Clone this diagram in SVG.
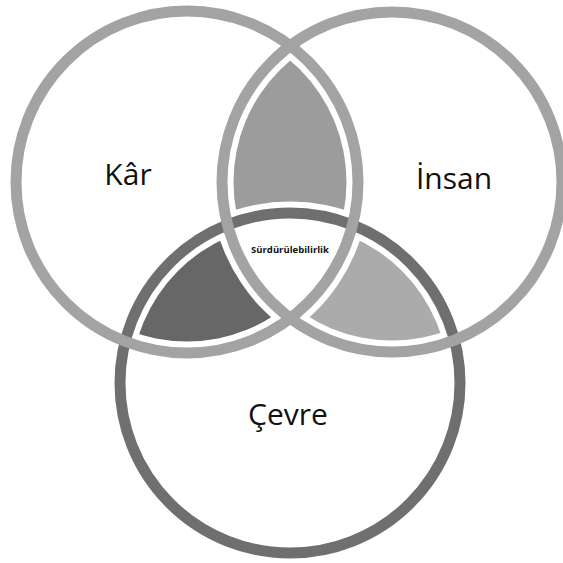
<svg xmlns="http://www.w3.org/2000/svg" width="563" height="563" viewBox="0 0 563 563">
  <style>
    .ring { fill: none; stroke-width: 11; }
    .light { stroke: #a3a3a3; }
    .dark { stroke: #6f6f6f; }
    .label { font-family: "Open Sans", "Noto Sans", sans-serif; font-size: 30px; fill: #111; text-anchor: middle; }
    .center { font-family: "Open Sans", "Noto Sans", sans-serif; font-size: 9.5px; font-weight: bold; fill: #111; text-anchor: middle; }
  </style>
  <defs>
    <clipPath id="inK"><circle cx="187" cy="182" r="159.5"/></clipPath>
    <clipPath id="inI"><circle cx="392" cy="182" r="158.5"/></clipPath>
    <mask id="outC" maskUnits="userSpaceOnUse" x="0" y="0" width="563" height="563">
      <rect x="0" y="0" width="563" height="563" fill="#fff"/>
      <circle cx="290" cy="383" r="181.5" fill="#000"/>
    </mask>
    <mask id="outI" maskUnits="userSpaceOnUse" x="0" y="0" width="563" height="563">
      <rect x="0" y="0" width="563" height="563" fill="#fff"/>
      <circle cx="392" cy="182" r="181.5" fill="#000"/>
    </mask>
    <mask id="outK" maskUnits="userSpaceOnUse" x="0" y="0" width="563" height="563">
      <rect x="0" y="0" width="563" height="563" fill="#fff"/>
      <circle cx="187" cy="182" r="182.5" fill="#000"/>
    </mask>
  </defs>
  <rect x="0" y="0" width="563" height="563" fill="#fff"/>

  <g id="lens-kar-insan" mask="url(#outC)">
    <circle cx="392" cy="182" r="158.5" clip-path="url(#inK)" fill="#9c9c9c"/>
  </g>
  <g id="lens-kar-cevre" mask="url(#outI)">
    <circle cx="290" cy="383" r="158.5" clip-path="url(#inK)" fill="#676767"/>
  </g>
  <g id="lens-insan-cevre" mask="url(#outK)">
    <circle cx="290" cy="383" r="158.5" clip-path="url(#inI)" fill="#ababab"/>
  </g>

  <g id="cevre">
    <circle class="ring dark" cx="290" cy="383" r="170"/>
    <text class="label" x="288" y="425">Çevre</text>
  </g>
  <g id="kar">
    <circle class="ring light" cx="187" cy="182" r="171"/>
    <text class="label" x="128" y="185">Kâr</text>
  </g>
  <g id="insan">
    <circle class="ring light" cx="392" cy="182" r="170"/>
    <text class="label" x="454" y="189">İnsan</text>
  </g>
  <g id="surdurulebilirlik">
    <text class="center" x="290" y="253">Sürdürülebilirlik</text>
  </g>
</svg>
